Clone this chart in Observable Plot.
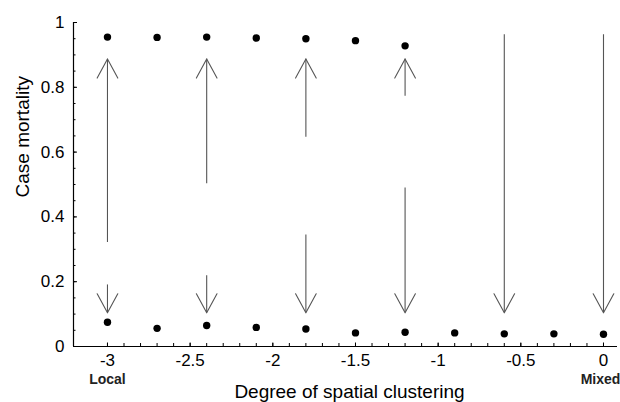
<!DOCTYPE html>
<html>
<head>
<meta charset="utf-8">
<script src="https://cdn.jsdelivr.net/npm/d3@7"></script>
<script src="https://cdn.jsdelivr.net/npm/@observablehq/plot@0.6"></script>
<style>
  html, body { margin: 0; padding: 0; background: #fff; }
  #chart svg { display: block; }
</style>
</head>
<body>
<div id="chart"></div>
<script>
// Degree of spatial clustering (x) for each simulated setting
const clustering = [-3, -2.7, -2.4, -2.1, -1.8, -1.5, -1.2, -0.9, -0.6, -0.3, 0];
// Upper branch of case mortality (only present for the first 7 settings)
const upperMortality = [0.955, 0.954, 0.955, 0.952, 0.950, 0.944, 0.928];
// Lower branch of case mortality
const lowerMortality = [0.075, 0.056, 0.065, 0.059, 0.054, 0.042, 0.044, 0.042, 0.039, 0.039, 0.038];

// Arrows: x position, start value and tip value
const upArrowX    = [-3, -2.4, -1.8, -1.2];
const upArrowFrom = [0.321, 0.502, 0.646, 0.772];
const upArrowTo   = [0.887, 0.887, 0.887, 0.887];
const downArrowX    = [-3, -2.4, -1.8, -1.2, -0.6, 0];
const downArrowFrom = [0.190, 0.218, 0.344, 0.489, 0.962, 0.962];
const downArrowTo   = [0.104, 0.104, 0.104, 0.104, 0.104, 0.104];

// Tick labels
const xTicks = [-3, -2.5, -2, -1.5, -1, -0.5, 0];
const yTicks = [0, 0.2, 0.4, 0.6, 0.8, 1];
const xMinorTicks = d3.range(-30, 1).map(d => d / 10);
const yMinorTicks = d3.range(0, 21).map(d => d / 20);

const xTitle = "Degree of spatial clustering";
const yTitle = "Case mortality";
const leftLabel = {x: -3, text: "Local"};
const rightLabel = {x: 0, text: "Mixed"};

const upperPts = upperMortality.map((y, i) => ({x: clustering[i], y}));
const lowerPts = lowerMortality.map((y, i) => ({x: clustering[i], y}));
const arrows = [
  ...upArrowX.map((x, i) => ({x, from: upArrowFrom[i], to: upArrowTo[i], rot: 0})),
  ...downArrowX.map((x, i) => ({x, from: downArrowFrom[i], to: downArrowTo[i], rot: 180}))
];

const W = 620, H = 402;
const mL = 73, mR = 3, mT = 22, mB = 56;
const innerW = W - mL - mR, innerH = H - mT - mB;
const xDomain = [-3.2055, 0.0847];

// open "V" arrow head, tip at origin, pointing up
const chevron = {
  draw(context) {
    context.moveTo(-10.3, 19);
    context.lineTo(0, 0);
    context.lineTo(10.3, 19);
  }
};

const arrowColor = "#555";
const endStyle = {fontWeight: "bold", fontSize: 14, fill: "#222", lineAnchor: "bottom"};

const chart = Plot.plot({
  width: W,
  height: H,
  marginLeft: mL,
  marginRight: mR,
  marginTop: mT,
  marginBottom: mB,
  style: {fontFamily: "'Liberation Sans', Arial, Helvetica, sans-serif", color: "black", background: "white"},
  x: {domain: xDomain},
  y: {domain: [0, 1]},
  marks: [
    // axis lines
    Plot.ruleY([0], {stroke: "black", strokeWidth: 1.2}),
    Plot.ruleX([xDomain[0]], {stroke: "black", strokeWidth: 1.2}),
    // inward ticks
    Plot.tickY(yMinorTicks, {y: d => d, insetRight: innerW - 2.5, stroke: "black"}),
    Plot.tickY(yTicks, {y: d => d, insetRight: innerW - 4, stroke: "black"}),
    Plot.tickX(xMinorTicks, {x: d => d, insetTop: innerH - 3, stroke: "black"}),
    Plot.tickX(xTicks, {x: d => d, insetTop: innerH - 3.5, stroke: "black"}),
    // tick labels
    Plot.axisY({ticks: yTicks, tickSize: 0, tickPadding: 9, tickFormat: d => String(d), label: null, fontSize: 17}),
    Plot.axisX({ticks: xTicks, tickSize: 0, tickPadding: 7, tickFormat: d => String(d), label: null, fontSize: 17}),
    // arrows
    Plot.ruleX(arrows, {x: "x", y1: "from", y2: "to", stroke: arrowColor, strokeWidth: 1.1}),
    Plot.vector(arrows, {x: "x", y: "to", rotate: "rot", length: 10, anchor: "start", shape: chevron, stroke: arrowColor, strokeWidth: 1.1}),
    // data points
    Plot.dot(upperPts, {x: "x", y: "y", r: 3.7, fill: "black", stroke: "none"}),
    Plot.dot(lowerPts, {x: "x", y: "y", r: 3.7, fill: "black", stroke: "none"}),
    // end labels
    Plot.text([leftLabel], {x: "x", y: () => 0, text: "text", dy: 37, ...endStyle}),
    Plot.text([rightLabel], {x: "x", y: () => 0, text: "text", dy: 37, dx: -3, ...endStyle}),
    // titles
    Plot.text([xTitle], {frameAnchor: "bottom", lineAnchor: "bottom", dy: 51, dx: 4, fontSize: 19}),
    Plot.text([yTitle], {frameAnchor: "left", lineAnchor: "bottom", rotate: -90, dx: -45, dy: 13, fontSize: 19})
  ]
});

document.getElementById("chart").appendChild(chart);
</script>
</body>
</html>
